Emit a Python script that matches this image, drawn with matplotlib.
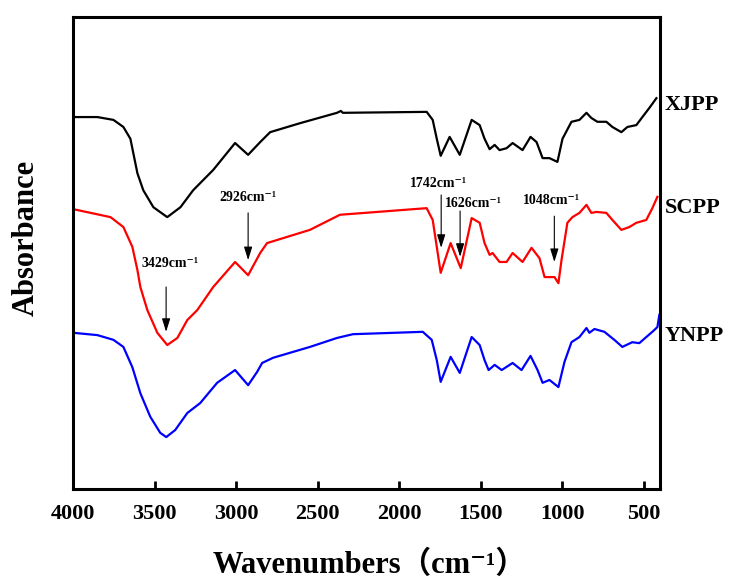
import numpy as np
import matplotlib.pyplot as plt
from matplotlib.transforms import blended_transform_factory

# ── FTIR spectra of the three polysaccharide samples ─────────────────────────
wn_xjpp = [4000, 3850, 3752, 3691, 3648, 3605, 3569, 3507, 3422, 3341, 3263,
           3140, 3006, 2926, 2852, 2791, 2608, 2381, 2357, 2345, 1831, 1794,
           1769, 1745, 1690, 1628, 1555, 1506, 1476, 1445, 1414, 1384, 1341,
           1304, 1243, 1194, 1157, 1120, 1078, 1029, 998, 943, 894, 851, 821,
           784, 729, 692, 637, 600, 545, 508, 466, 422]
ab_xjpp = [78.8, 78.8, 78.2, 76.7, 74.2, 66.9, 63.3, 59.7, 57.6, 59.7, 63.3,
           67.6, 73.3, 70.8, 73.5, 75.6, 77.5, 79.7, 80.1, 79.7, 79.9, 78.2,
           74.2, 70.6, 74.6, 70.8, 78.2, 77.1, 74.2, 72.0, 72.9, 71.8, 72.2,
           73.3, 71.8, 74.6, 73.5, 70.1, 70.1, 69.3, 74.2, 77.8, 78.2, 79.7, 78.6,
           77.8, 77.8, 76.7, 75.6, 76.7, 77.1, 78.8, 80.7, 82.8]

wn_scpp = [4000, 3770, 3691, 3636, 3605, 3587, 3544, 3483, 3422, 3360, 3299,
           3238, 3140, 3006, 2926, 2852, 2810, 2547, 2363, 1831, 1794, 1769,
           1745, 1684, 1622, 1555, 1506, 1476, 1445, 1427, 1384, 1341, 1304,
           1243, 1188, 1139, 1108, 1078, 1047, 1023, 1004, 968, 937, 894, 851,
           821, 790, 729, 692, 637, 588, 545, 484, 447, 416]
ab_scpp = [59.3, 57.6, 55.5, 51.3, 46.4, 42.8, 37.9, 33.1, 30.5, 32.0, 35.8,
           37.9, 42.8, 48.1, 45.3, 50.0, 52.1, 54.9, 58.1, 59.5, 57.0, 51.3,
           45.8, 52.1, 46.8, 57.4, 56.4, 52.1, 49.6, 50.0, 48.1, 48.1, 50.0,
           48.1, 51.1, 48.9, 44.9, 44.9, 44.9, 43.6, 48.5, 56.4, 57.6, 58.5, 60.2,
           58.5, 58.7, 58.5, 57.0, 54.9, 55.5, 56.4, 57.0, 59.5, 61.9]

wn_ynpp = [4000, 3850, 3752, 3691, 3636, 3587, 3526, 3465, 3428, 3373, 3299,
           3220, 3116, 3006, 2926, 2871, 2840, 2773, 2547, 2381, 2283, 1855,
           1800, 1769, 1745, 1684, 1628, 1555, 1506, 1476, 1451, 1414, 1371,
           1304, 1249, 1194, 1151, 1120, 1078, 1023, 986, 943, 894, 851, 833,
           802, 741, 680, 631, 570, 527, 484, 447, 416, 404]
ab_ynpp = [33.1, 32.6, 31.6, 30.1, 25.8, 20.3, 15.3, 11.9, 11.0, 12.5, 16.1,
           18.2, 22.5, 25.2, 22.0, 24.8, 26.7, 27.8, 30.1, 32.0, 32.8, 33.3,
           31.6, 27.3, 22.7, 28.0, 24.6, 32.2, 30.5, 27.3, 25.2, 26.3, 25.2,
           26.7, 25.2, 28.2, 25.2, 22.5, 23.1, 21.6, 26.9, 31.1, 32.2, 34.1, 33.1,
           33.9, 33.3, 31.6, 30.1, 31.1, 30.9, 32.2, 33.3, 34.3, 36.9]

samples = ["XJPP", "SCPP", "YNPP"]
colors = ["black", "red", "blue"]

# band positions marked on the SCPP spectrum
peaks = [3429, 2926, 1742, 1626, 1048]

# arrow start/end heights and label anchor (x, y) for each band
arrow_y = [(42.8, 33.3), (58.5, 48.5), (62.3, 51.1), (58.9, 49.2), (57.8, 48.1)]
label_xy = [(3403, 47.7), (2926, 61.7), (1757, 64.8), (1544, 60.4), (1065, 61.2)]
name_y = [81.4, 59.5, 32.4]

serif = ["Liberation Serif", "DejaVu Serif", "Noto Sans CJK SC"]
plt.rcParams["font.family"] = serif
plt.rcParams["font.weight"] = "bold"

fig = plt.figure(figsize=(7.32, 5.79), dpi=100)
ax = fig.add_axes([73 / 732, 90 / 579, 587 / 732, 472 / 579])

series = [(wn_xjpp, ab_xjpp), (wn_scpp, ab_scpp), (wn_ynpp, ab_ynpp)]
for (wn, ab), c in zip(series, colors):
    ax.plot(wn, ab, color=c, lw=1.6, solid_joinstyle="round")

ax.set_xlim(4000, 400)
ax.set_ylim(0, 100)
ax.set_xticks(np.arange(4000, 499, -500))
ax.set_yticks([])
ax.tick_params(axis="x", direction="in", length=6, width=2, pad=11,
               labelsize=16)
for lbl in ax.get_xticklabels():
    lbl.set_fontweight("bold")
for sp in ax.spines.values():
    sp.set_linewidth(2.2)

# band annotations
for wn, (y0, y1), (tx, ty) in zip(peaks, arrow_y, label_xy):
    ax.annotate("", xy=(wn, y1), xytext=(wn, y0),
                arrowprops=dict(arrowstyle="-|>,head_length=0.8,head_width=0.25",
                                color="black", lw=0.8, shrinkA=0, shrinkB=0))
    ax.text(tx, ty, f"{wn}cm\u207b\u00b9", ha="center", va="center",
            fontsize=10, fontweight="bold")

# sample names beside the right spine
trans = blended_transform_factory(ax.transAxes, ax.transData)
for name, y in zip(samples, name_y):
    ax.text(1.008, y, name, transform=trans, ha="left", va="center",
            fontsize=16, fontweight="bold", clip_on=False)

ax.set_xlabel("Wavenumbers\uff08cm\u207b\u00b9\uff09", fontsize=22,
              fontweight="bold")
ax.xaxis.set_label_coords(0.505, -0.13)
ax.xaxis.label.set_va("top")
ax.set_ylabel("Absorbance", fontsize=22, fontweight="bold")
ax.yaxis.set_label_coords(-0.055, 0.532)

fig.savefig("out.png", dpi=100)
